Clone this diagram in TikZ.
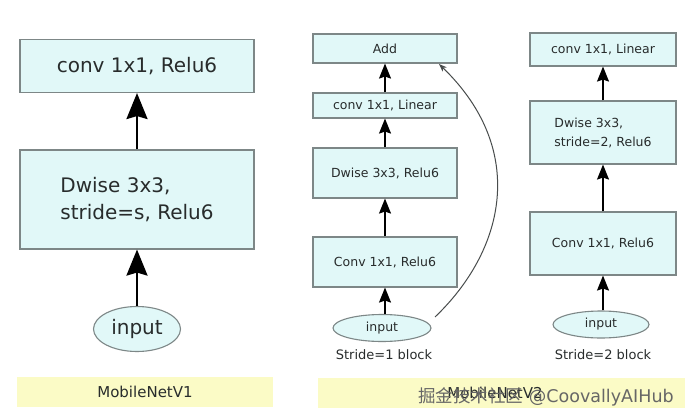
\documentclass[tikz,border=0pt]{standalone}
\usepackage{fontspec}
\setmainfont{DejaVu Sans}
\newfontfamily\cjk{Noto Sans CJK SC}
\usetikzlibrary{shapes.geometric,arrows.meta}
\definecolor{boxfill}{RGB}{225,248,248}
\definecolor{boxline}{RGB}{125,135,135}
\definecolor{barfill}{RGB}{251,251,198}
\definecolor{txt}{RGB}{40,44,44}
\tikzset{
  blk/.style={draw=boxline, fill=boxfill, line width=1.1pt, inner sep=0pt, text=txt, rectangle},
  inp/.style={draw=boxline, fill=boxfill, line width=1.1pt, inner sep=0pt, text=txt, ellipse},
  bigarr/.style={line width=2.4pt, -{Stealth[length=26pt,width=21pt,inset=3pt]}},
  smarr/.style={line width=1.4pt, -{Stealth[length=15pt,width=12pt,inset=2pt]}},
  skiparr/.style={line width=1pt, draw=txt!85, -{Stealth[length=8pt,width=6pt]}},
  bar/.style={fill=barfill, draw=none, inner sep=0pt, rectangle},
}
\begin{document}
\begin{tikzpicture}[x=1pt,y=-1pt]
\useasboundingbox[fill=white] (0,0) rectangle (693,420);
% ---- MobileNetV1 ----
\node[blk, minimum width=234pt, minimum height=53pt, font=\fontsize{20}{24}\selectfont] (L1) at (137,66) {conv 1x1, Relu6};
\node[blk, minimum width=234pt, minimum height=99pt, align=left, font=\fontsize{20}{27}\selectfont] (L2) at (137,199.5) {Dwise 3x3,\\stride=s, Relu6};
\node[inp, minimum width=87pt, minimum height=45pt, font=\fontsize{20}{24}\selectfont] (Lin) at (137,329) {input};
\draw[bigarr] (L2.north) -- (L1.south);
\draw[bigarr] (Lin.north) -- (L2.south);
\node[bar, minimum width=256pt, minimum height=30pt, text=txt, font=\fontsize{15}{18}\selectfont] (bar1) at (145,392) {MobileNetV1};
% ---- Stride 1 block ----
\node[blk, minimum width=144pt, minimum height=29pt, font=\fontsize{12.5}{15}\selectfont] (Add) at (385,48.5) {Add};
\node[blk, minimum width=144pt, minimum height=25pt, font=\fontsize{12.5}{15}\selectfont] (M2) at (385,105.5) {conv 1x1, Linear};
\node[blk, minimum width=144pt, minimum height=50pt, font=\fontsize{12.5}{15}\selectfont] (M3) at (385,173) {Dwise 3x3, Relu6};
\node[blk, minimum width=144pt, minimum height=50pt, font=\fontsize{12.5}{15}\selectfont] (M4) at (385,262) {Conv 1x1, Relu6};
\node[inp, minimum width=98pt, minimum height=27pt, font=\fontsize{12.5}{15}\selectfont] (Min) at (382,328) {input};
\node[text=txt, font=\fontsize{13}{15}\selectfont, inner sep=0pt] (S1) at (384,355) {Stride=1 block};
\draw[smarr] (M2.north) -- (Add.south);
\draw[smarr] (M3.north) -- (M2.south);
\draw[smarr] (M4.north) -- (M3.south);
\draw[smarr] (Min.north -| M4.south) -- (M4.south);
\coordinate (cs) at (435,317);
\coordinate (ce) at (439,64);
\draw[skiparr] (cs) .. controls (505,250) and (528,150) .. (ce);
% ---- Stride 2 block ----
\node[blk, minimum width=146pt, minimum height=33pt, font=\fontsize{12.5}{15}\selectfont] (R1) at (603,49.5) {conv 1x1, Linear};
\node[blk, minimum width=146pt, minimum height=63pt, align=left, font=\fontsize{12.5}{19}\selectfont] (R2) at (603,132.5) {Dwise 3x3,\\stride=2, Relu6};
\node[blk, minimum width=146pt, minimum height=63pt, font=\fontsize{12.5}{15}\selectfont] (R3) at (603,243.5) {Conv 1x1, Relu6};
\node[inp, minimum width=96pt, minimum height=27pt, font=\fontsize{12.5}{15}\selectfont] (Rin) at (601,324.5) {input};
\node[text=txt, font=\fontsize{13}{15}\selectfont, inner sep=0pt] (S2) at (603,355) {Stride=2 block};
\draw[smarr] (R2.north) -- (R1.south);
\draw[smarr] (R3.north) -- (R2.south);
\draw[smarr] (Rin.north -| R3.south) -- (R3.south);
% ---- bottom bar ----
\node[bar, minimum width=367pt, minimum height=30pt] (bar2) at (501.5,393) {};
\node[text=txt, font=\fontsize{15}{18}\selectfont, inner sep=0pt] (V2) at (495,393) {MobileNetV2};
\node[text=black!60, font=\fontsize{17.5}{20}\selectfont, inner sep=0pt] (wm) at (546,397) {{\cjk 掘金技术社区} @CoovallyAIHub};
\end{tikzpicture}
\end{document}
